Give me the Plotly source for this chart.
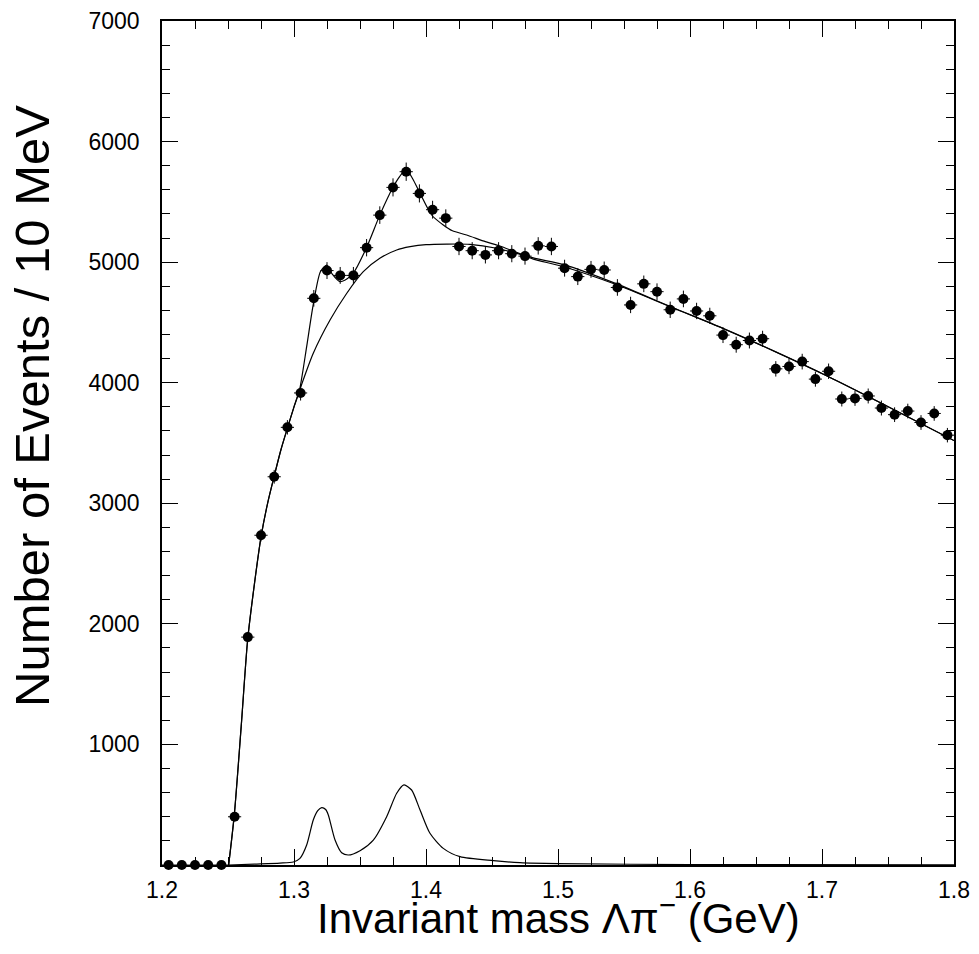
import plotly.graph_objects as go

# ---- data ----
mass = [1.205, 1.215, 1.225, 1.235, 1.245, 1.255, 1.265, 1.275, 1.285, 1.295,
        1.305, 1.315, 1.325, 1.335, 1.345, 1.355, 1.365, 1.375, 1.385, 1.395,
        1.405, 1.415, 1.425, 1.435, 1.445, 1.455, 1.465, 1.475, 1.485, 1.495,
        1.505, 1.515, 1.525, 1.535, 1.545, 1.555, 1.565, 1.575, 1.585, 1.595,
        1.605, 1.615, 1.625, 1.635, 1.645, 1.655, 1.665, 1.675, 1.685, 1.695,
        1.705, 1.715, 1.725, 1.735, 1.745, 1.755, 1.765, 1.775, 1.785, 1.795]
counts = [0, 0, 0, 0, 0, 400, 1890, 2735, 3220, 3630,
          3915, 4700, 4930, 4890, 4890, 5120, 5390, 5620, 5750, 5570,
          5435, 5365, 5130, 5095, 5060, 5095, 5070, 5050, 5135, 5130,
          4950, 4880, 4940, 4935, 4790, 4645, 4820, 4755, 4605, 4695,
          4595, 4555, 4395, 4315, 4350, 4365, 4115, 4135, 4175, 4030,
          4095, 3865, 3870, 3890, 3790, 3735, 3765, 3670, 3745, 3565]
errors = [0, 0, 0, 0, 0, 20, 43, 52, 57, 60,
          63, 69, 70, 70, 70, 72, 73, 75, 76, 75,
          74, 73, 72, 71, 71, 71, 71, 71, 72, 72,
          70, 70, 70, 70, 69, 68, 69, 69, 68, 69,
          68, 67, 66, 66, 66, 66, 64, 64, 65, 63,
          64, 62, 62, 62, 62, 61, 61, 61, 61, 60]
bin_half = 0.005

total_x = [1.2505, 1.2548, 1.2600, 1.2649, 1.2700, 1.2750, 1.2800, 1.2851, 1.2900,
           1.2952, 1.3000, 1.3040, 1.3096, 1.3146, 1.3200, 1.3248, 1.3290, 1.3348,
           1.3400, 1.3450, 1.3550, 1.3650, 1.3750, 1.3800, 1.3850, 1.3900, 1.3955,
           1.4043, 1.4131, 1.4200, 1.4308, 1.4450, 1.4560, 1.4700, 1.4813, 1.5050,
           1.5450, 1.5850, 1.6250, 1.6650, 1.7050, 1.7450, 1.8000]
total_y = [0, 420, 1150, 1870, 2330, 2720, 3000, 3230, 3440,
           3630, 3800, 3930, 4300, 4650, 4920, 4976, 4900, 4838,
           4860, 4910, 5122, 5390, 5621, 5710, 5770, 5690, 5571,
           5391, 5308, 5260, 5225, 5170, 5134, 5075, 5035, 4978,
           4818, 4632, 4451, 4256, 4050, 3830, 3520]

bkg_x = [1.2505, 1.2548, 1.2600, 1.2649, 1.2700, 1.2750, 1.2800, 1.2851, 1.2900,
         1.2952, 1.3000, 1.3040, 1.3146, 1.3273, 1.3400, 1.3525, 1.3650, 1.3778,
         1.3880, 1.4000, 1.4157, 1.4333, 1.4535, 1.4727, 1.4813, 1.5050, 1.5450,
         1.5850, 1.6250, 1.6650, 1.7050, 1.7450, 1.8000]
bkg_y = [0, 420, 1150, 1870, 2330, 2720, 3000, 3230, 3440,
         3630, 3800, 3930, 4244, 4520, 4742, 4921, 5032, 5101,
         5128, 5145, 5150, 5148, 5115, 5059, 5025, 4960, 4810,
         4630, 4450, 4255, 4050, 3830, 3520]

sig_x = [1.2505, 1.2700, 1.2894, 1.2995, 1.3045, 1.3096, 1.3146, 1.3180, 1.3210,
         1.3240, 1.3260, 1.3311, 1.3361, 1.3411, 1.3500, 1.3601, 1.3702, 1.3778,
         1.3833, 1.3891, 1.3955, 1.4030, 1.4131, 1.4258, 1.4510, 1.4712, 1.5000,
         1.6000, 1.8000]
sig_y = [0, 8, 16, 25, 55, 166, 373, 450, 476,
         460, 415, 207, 102, 83, 119, 207, 401, 595,
         664, 622, 456, 263, 138, 69, 36, 19, 11,
         4, 2]

FONT = "Liberation Sans"

fig = go.Figure()

line_style = dict(color="black", width=1.2, shape="spline", smoothing=0.7)
fig.add_trace(go.Scatter(x=bkg_x, y=bkg_y, mode="lines", line=line_style,
                         hoverinfo="skip", showlegend=False))
fig.add_trace(go.Scatter(x=total_x, y=total_y, mode="lines", line=line_style,
                         hoverinfo="skip", showlegend=False))
fig.add_trace(go.Scatter(x=sig_x, y=sig_y, mode="lines", line=line_style,
                         hoverinfo="skip", showlegend=False))

fig.add_trace(go.Scatter(
    x=mass, y=counts, mode="markers",
    marker=dict(color="black", size=10, symbol="circle"),
    error_y=dict(type="data", array=errors, visible=True, color="black",
                 thickness=1, width=0),
    error_x=dict(type="constant", value=bin_half, visible=True, color="black",
                 thickness=1, width=0),
    cliponaxis=False, showlegend=False))

axis_common = dict(showline=True, linecolor="black", linewidth=1.5, mirror="ticks",
                   ticks="inside", ticklen=16, tickwidth=1, tickcolor="black",
                   showgrid=False, zeroline=False, automargin=False,
                   tickfont=dict(family=FONT, size=23, color="black"))

fig.update_xaxes(range=[1.2, 1.8], tick0=1.2, dtick=0.1, tickformat=".1f",
                 minor=dict(dtick=0.025, ticklen=8, ticks="inside", tickcolor="black", tickwidth=1),
                 ticklabelstandoff=4, **axis_common)
fig.update_yaxes(range=[0, 7000], tickvals=[1000, 2000, 3000, 4000, 5000, 6000, 7000],
                 minor=dict(tick0=0, dtick=200, ticklen=8, ticks="inside", tickcolor="black", tickwidth=1),
                 ticklabelstandoff=16, **axis_common)

fig.add_annotation(text="Number of Events / 10 MeV", xref="paper", yref="paper",
                   x=(32 - 162) / 792, y=(865 - 406) / 844, textangle=-90,
                   xanchor="center", yanchor="middle", showarrow=False,
                   font=dict(family=FONT, size=49, color="black"))
fig.add_annotation(text="Invariant mass Λπ<sup>−</sup> (GeV)", xref="paper", yref="paper",
                   x=0.5, y=(865 - 915) / 844, xanchor="center", yanchor="middle",
                   showarrow=False, font=dict(family=FONT, size=42, color="black"))

# page body adds an 8px margin, so the figure is sized to fit inside the window
fig.update_layout(width=963, height=938,
                  margin=dict(l=154, r=17, t=13, b=81),
                  paper_bgcolor="white", plot_bgcolor="white")

fig.write_html("out.html")
